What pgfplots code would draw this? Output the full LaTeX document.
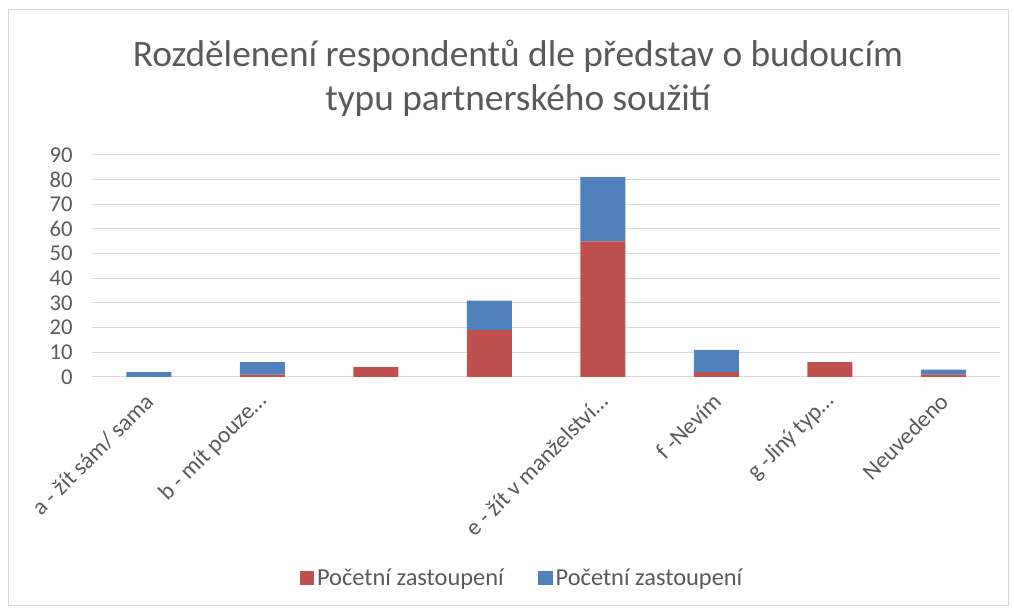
\documentclass[border=0pt]{standalone}
\usepackage{fontspec}
\setmainfont{Carlito}
\usepackage{pgfplots}
\pgfplotsset{compat=1.18}
\definecolor{txt}{HTML}{595959}
\definecolor{redb}{HTML}{C0504D}
\definecolor{blueb}{HTML}{4F81BD}
\definecolor{gridc}{HTML}{D9D9D9}
\begin{document}
\begin{tikzpicture}
\path[use as bounding box] (0pt,0pt) rectangle (760.5pt,457.5pt);
\draw[gridc, line width=0.75pt] (6pt,3pt) rectangle (756pt,450pt);
\node[text=txt, align=center, font=\fontsize{28}{33}\selectfont] at (388.5pt,399pt) {Rozdělenení respondentů dle představ o budoucím\\typu partnerského soužití};
\begin{axis}[
  at={(69pt,174.75pt)}, anchor=south west,
  scale only axis, width=681pt, height=166.5pt,
  ybar stacked, bar width=33.75pt,
  xmin=-0.5, xmax=7.5, ymin=0, ymax=90,
  ytick={0,10,...,90},
  xtick={0,...,7},
  xticklabels={a - žít sám/ sama, b - mít pouze…, , , e - žít v manželství…, f -Nevím, g -Jiný typ…, Neuvedeno},
  axis line style={draw=none},
  major tick length=0pt,
  ymajorgrids, grid style={gridc, line width=0.75pt},
  /pgf/number format/assume math mode=true,
  ticklabel style={font=\fontsize{17}{20}\selectfont, text=txt},
  yticklabel style={xshift=-11pt},
  xticklabel style={font=\fontsize{17.6}{20}\selectfont, xshift=3pt, yshift=-13pt, rotate=45, anchor=east},
  legend columns=2,
  legend style={at={(0.474,-0.905)}, anchor=center, draw=none, font=\fontsize{18.3}{21}\selectfont, text=txt, /tikz/every even column/.append style={column sep=24pt}},
  legend image code/.code={\fill[#1] (0pt,-5.5pt) rectangle (11pt,5.5pt);},
]
\addplot[fill=redb, draw=none] coordinates {(0,0) (1,1) (2,4) (3,19) (4,55) (5,2) (6,6) (7,1)};
\addplot[fill=blueb, draw=none] coordinates {(0,2) (1,5) (2,0) (3,12) (4,26) (5,9) (6,0) (7,2)};
\legend{Početní zastoupení, Početní zastoupení}
\end{axis}
\end{tikzpicture}
\end{document}
